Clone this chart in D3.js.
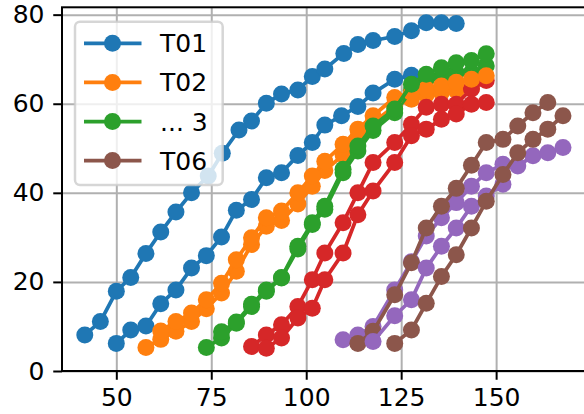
<!DOCTYPE html>
<html>
<head>
<meta charset="utf-8">
<script src="https://cdn.jsdelivr.net/npm/d3@7/dist/d3.min.js"></script>
<style>
  html, body { margin: 0; padding: 0; background: #fff; }
  svg { display: block; font-family: "DejaVu Sans", sans-serif; }
</style>
</head>
<body>
<svg id="chart" width="584" height="414"></svg>
<script>
// ---------- data ----------
const xTicks = [50, 75, 100, 125, 150];
const yTicks = [0, 20, 40, 60, 80];
const seriesLabels = ["T01", "T02", "T03", "T04", "T05", "T06", "T07", "T08", "T09", "T10", "T11", "T12"];
const legendLabels = ["T01", "T02", "... 3", "T06"];

const x01 = [41.7, 45.8, 50, 53.8, 57.8, 61.7, 65.7, 69.8, 74.2, 77.9, 82.3, 85.6, 89.5, 93.5, 97.8, 101.6, 104.9, 109.9, 113.6, 117.6, 123.3, 127.7, 131.6, 135.6, 139.5];
const y01 = [8.1, 11.1, 17.9, 21.0, 26.4, 31.2, 35.7, 40.0, 43.8, 48.9, 54.1, 56.1, 60.1, 62.2, 63.1, 66.1, 67.8, 71.3, 73.3, 74.2, 75.1, 76.4, 78.2, 78.2, 78.0];

const x02 = [57.8, 61.7, 65.7, 69.8, 73.7, 77.7, 81.6, 85.6, 89.5, 93.5, 97.8, 101.6, 104.9, 109.7, 113.6, 117.6, 123.3, 127.7, 131.6, 135.6, 139.5, 143.5];
const y02 = [5.3, 7.1, 8.9, 11.1, 14.0, 17.5, 22.4, 28.4, 32.5, 33.8, 37.5, 41.5, 45.0, 48.5, 52.5, 55.8, 59.5, 61.0, 62.0, 62.5, 63.0, 63.5];

const x03 = [73.7, 77.7, 81.6, 85.6, 89.5, 93.5, 97.8, 101.6, 104.9, 109.7, 113.6, 117.6, 123.3, 127.7, 131.6, 135.6, 139.5, 143.5, 147.4];
const y03 = [5.3, 7.4, 10.7, 14.5, 17.9, 20.9, 27.4, 32.9, 36.3, 44.5, 49.4, 54.0, 58.0, 63.0, 65.5, 66.0, 67.0, 67.0, 68.5];

const x04 = [85.6, 89.5, 93.5, 97.8, 101.6, 104.9, 109.7, 113.6, 117.6, 123.3, 127.7, 131.6, 135.6, 139.5, 143.5, 147.4];
const y04 = [5.5, 8.1, 10.4, 14.5, 20.5, 26.5, 33.3, 40.0, 46.8, 51.3, 55.4, 59.2, 59.9, 59.9, 63.3, 65.2];

const x05 = [109.7, 113.6, 117.6, 123.3, 127.7, 131.6, 135.6, 139.5, 143.5, 147.4, 151.8, 155.7, 159.7, 163.6, 167.6];
const y05 = [7.0, 8.1, 10.0, 18.2, 24.5, 30.3, 34.4, 37.8, 41.5, 44.5, 46.4, 46.0, 48.3, 49.0, 50.2];

const x06 = [113.6, 117.6, 123.3, 127.7, 131.6, 135.6, 139.5, 143.5, 147.4, 151.8, 155.7, 159.7, 163.6];
const y06 = [6.2, 8.9, 17.1, 24.3, 32.1, 37.0, 41.0, 46.2, 51.3, 52.0, 55.0, 58.0, 60.3];

const x07 = [50, 53.8, 57.8, 61.7, 65.7, 69.8, 73.7, 77.7, 81.6, 85.6, 89.5, 93.5, 97.8, 101.6, 104.9, 109.3, 113.6, 117.6, 123.3, 127.7];
const y07 = [6.2, 9.2, 10.1, 15.1, 18.2, 23.1, 25.9, 30.1, 36.1, 38.5, 43.4, 44.5, 48.4, 51.3, 55.2, 57.3, 59.4, 62.4, 65.5, 66.4];

const x08 = [61.7, 65.7, 69.8, 73.7, 77.7, 81.6, 85.6, 89.5, 93.5, 97.8, 101.6, 104.9, 109.7, 113.6, 117.6, 123.3, 127.7, 131.6, 135.6, 139.5, 143.5, 147.4];
const y08 = [9.0, 11.1, 13.0, 16.0, 19.7, 25.0, 29.9, 34.4, 35.9, 40.0, 43.8, 47.1, 50.9, 54.3, 57.3, 61.4, 62.5, 63.3, 64.0, 64.8, 65.5, 66.3];

const x09 = [77.7, 81.6, 85.6, 89.5, 93.5, 97.8, 101.6, 104.9, 109.7, 113.6, 117.6, 123.3, 127.7, 131.6, 135.6, 139.5, 143.5, 147.4];
const y09 = [8.8, 11.0, 15.0, 18.2, 21.0, 28.0, 33.3, 37.0, 45.3, 50.5, 55.0, 58.8, 64.4, 66.6, 68.1, 69.2, 69.7, 71.2];

const x10 = [89.5, 93.5, 97.8, 101.6, 104.9, 109.7, 113.6, 117.6, 123.3, 127.7, 131.6, 135.6, 139.5, 143.5, 147.4];
const y10 = [5.1, 7.4, 11.9, 14.1, 20.5, 26.5, 35.1, 40.4, 46.8, 52.8, 54.3, 56.5, 57.7, 59.9, 60.3];

const x11 = [117.6, 123.3, 127.7, 131.6, 135.6, 139.5, 143.5, 147.4, 151.8];
const y11 = [6.6, 12.4, 16.0, 23.1, 28.0, 32.1, 37.0, 39.3, 41.9];

const x12 = [123.3, 127.7, 131.6, 135.6, 139.5, 143.5, 147.4, 151.8, 155.7, 159.7, 163.6, 167.6];
const y12 = [6.2, 9.2, 15.2, 21.2, 26.1, 32.1, 38.1, 44.1, 49.0, 52.0, 54.3, 57.3];

const seriesX = [x01, x02, x03, x04, x05, x06, x07, x08, x09, x10, x11, x12];
const seriesY = [y01, y02, y03, y04, y05, y06, y07, y08, y09, y10, y11, y12];

// ---------- styles ----------
const palette = ["#1f77b4", "#ff7f0e", "#2ca02c", "#d62728", "#9467bd", "#8c564b"];
const legendColorIdx = [0, 1, 2, 5];

const W = 584, H = 414;
const L = 62, R = 585, T = 7.3, B = 371;
const fontSize = 25;
const markerR = 8.5;

const svg = d3.select("#chart");
const x = d3.scaleLinear([35.7, 173.4], [L, R]);
const y = d3.scaleLinear([0, 81.65], [B, T]);

svg.append("defs").append("clipPath").attr("id", "clip")
  .append("rect").attr("x", L).attr("y", T).attr("width", R - L).attr("height", B - T);

// grid
const gx = svg.append("g").attr("transform", `translate(0,${B})`)
  .call(d3.axisBottom(x).tickValues(xTicks).tickSize(-(B - T)).tickFormat(""));
gx.select(".domain").remove();
gx.selectAll("line").attr("stroke", "#b0b0b0").attr("stroke-width", 2);

const gy = svg.append("g").attr("transform", `translate(${L},0)`)
  .call(d3.axisLeft(y).tickValues(yTicks).tickSize(-(R - L)).tickFormat(""));
gy.select(".domain").remove();
gy.selectAll("line").attr("stroke", "#b0b0b0").attr("stroke-width", 2);

// series
const line = d3.line().x(d => x(d[0])).y(d => y(d[1]));
const plot = svg.append("g").attr("clip-path", "url(#clip)");
seriesLabels.forEach((lab, i) => {
  const pts = seriesX[i].map((v, j) => [v, seriesY[i][j]]);
  const col = palette[i % palette.length];
  const g = plot.append("g").attr("class", "series").attr("data-label", lab);
  g.append("path").datum(pts).attr("d", line)
    .attr("fill", "none").attr("stroke", col).attr("stroke-width", 3.75)
    .attr("stroke-linejoin", "round").attr("stroke-linecap", "butt");
  g.selectAll("circle").data(pts).join("circle")
    .attr("cx", d => x(d[0])).attr("cy", d => y(d[1])).attr("r", markerR)
    .attr("fill", col);
});

// spines
svg.append("rect").attr("x", L).attr("y", T).attr("width", R - L).attr("height", B - T)
  .attr("fill", "none").attr("stroke", "#000").attr("stroke-width", 2);

// axes
const ax = svg.append("g").attr("transform", `translate(0,${B})`)
  .call(d3.axisBottom(x).tickValues(xTicks).tickSize(8.75).tickSizeOuter(0).tickPadding(8.75).tickFormat(d3.format("d")));
ax.select(".domain").remove();
ax.selectAll("line").attr("stroke", "#000").attr("stroke-width", 2);
ax.selectAll("text").attr("font-size", fontSize).attr("font-family", "DejaVu Sans").attr("fill", "#000");

const ay = svg.append("g").attr("transform", `translate(${L},0)`)
  .call(d3.axisLeft(y).tickValues(yTicks).tickSize(8.75).tickSizeOuter(0).tickPadding(8.75).tickFormat(d3.format("d")));
ay.select(".domain").remove();
ay.selectAll("line").attr("stroke", "#000").attr("stroke-width", 2);
ay.selectAll("text").attr("font-size", fontSize).attr("font-family", "DejaVu Sans").attr("fill", "#000");

// legend
const lg = svg.append("g");
lg.append("rect").attr("x", 75).attr("y", 21.7).attr("width", 147.7).attr("height", 163.3)
  .attr("rx", 5).attr("ry", 5)
  .attr("fill", "#fff").attr("fill-opacity", 0.8)
  .attr("stroke", "#cccccc").attr("stroke-opacity", 0.8).attr("stroke-width", 2.5);
legendLabels.forEach((lab, i) => {
  const cy = 43.3 + i * 39.1;
  const col = palette[legendColorIdx[i]];
  lg.append("line").attr("x1", 84).attr("x2", 141.5).attr("y1", cy).attr("y2", cy)
    .attr("stroke", col).attr("stroke-width", 3.75);
  lg.append("circle").attr("cx", 112.5).attr("cy", cy).attr("r", markerR).attr("fill", col);
  lg.append("text").attr("x", 160).attr("y", cy).attr("dy", "0.36em")
    .attr("font-size", fontSize).attr("fill", "#000").text(lab);
});
</script>
</body>
</html>
